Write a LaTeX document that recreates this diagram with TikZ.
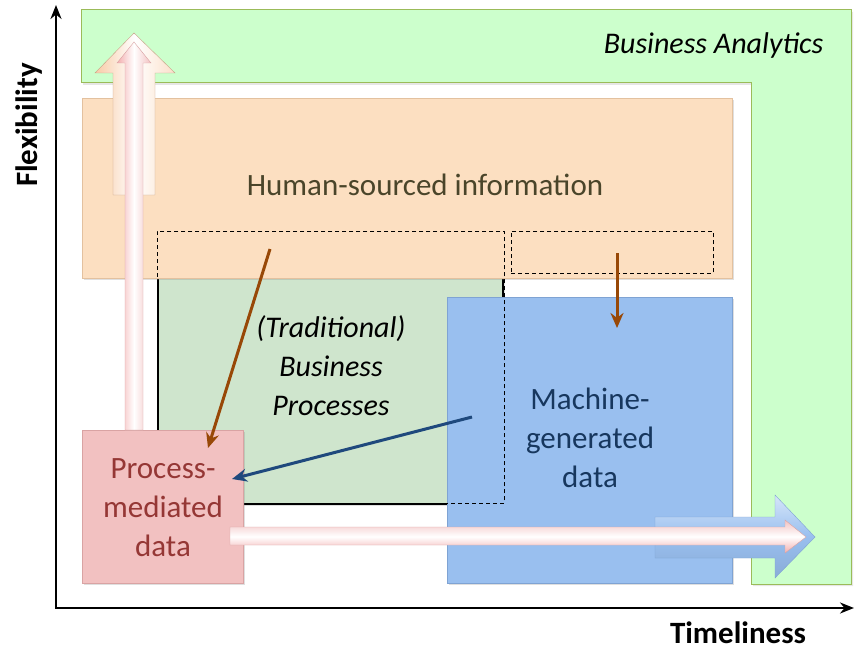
\documentclass[tikz,border=0pt]{standalone}
\usepackage{xcolor}
\usepackage{fontspec}
\setmainfont{Carlito}
\usepackage{tikz}
\usetikzlibrary{arrows.meta, positioning, calc, shadows}
\definecolor{bafill}{HTML}{CCFFCC}
\definecolor{baedge}{HTML}{9BBB59}
\definecolor{hsfill}{HTML}{FCDFC1}
\definecolor{hsedge}{HTML}{E3C19F}
\definecolor{hstext}{HTML}{4A452A}
\definecolor{tbfill}{HTML}{CFE5CD}
\definecolor{mgfill}{HTML}{99BFEF}
\definecolor{mgedge}{HTML}{7FA3D3}
\definecolor{mgtext}{HTML}{17375E}
\definecolor{pmfill}{HTML}{F2C1C1}
\definecolor{pmedge}{HTML}{D9A3A3}
\definecolor{pmtext}{HTML}{953735}
\definecolor{peach}{HTML}{F8CBA6}
\definecolor{mybrown}{HTML}{984807}
\definecolor{mynavy}{HTML}{1F497D}
\tikzset{
  box/.style={rectangle, anchor=north west, inner sep=0pt,
    drop shadow={opacity=0.25, shadow xshift=2pt, shadow yshift=-2pt}},
  boxtext/.style={align=center, font=\fontsize{31}{39}\selectfont},
  axislabel/.style={font=\fontsize{31}{36}\selectfont\bfseries},
  flow/.style={-{Stealth[length=15pt, width=13pt]}, line width=3pt},
  scopebox/.style={rectangle, anchor=north west, inner sep=0pt,
    draw=black, line width=0.9pt, dash pattern=on 4pt off 3pt}
}

\begin{document}
\begin{tikzpicture}[x=1pt, y=-1pt]
  \useasboundingbox (0,0) rectangle (858,650);

  % Business Analytics band
  \draw[fill=bafill, draw=baedge, line width=1pt,
    drop shadow={opacity=0.2, shadow xshift=2pt, shadow yshift=-2pt}]
    (81,10) -- (851,10) -- (851,584) -- (751,584) -- (751,83) -- (81,83) -- cycle;
  \node[font=\fontsize{30}{34}\selectfont\itshape, anchor=east] (ba) at (827,46) {Business Analytics};

  % Boxes
  \node[box, fill=tbfill, draw=black, line width=1.8pt,
    minimum width=345pt, minimum height=229pt] (tbbox) at (157,274) {};
  \node[box, fill=hsfill, draw=hsedge, line width=0.6pt,
    minimum width=650pt, minimum height=180pt] (hsbox) at (82,98) {};
  \node[box, fill=mgfill, draw=mgedge, line width=0.6pt,
    minimum width=285pt, minimum height=286pt] (mgbox) at (447,297) {};

  % Dashed scopes
  \node[scopebox, minimum width=347pt, minimum height=272pt] (tbscope) at (157,231) {};
  \node[scopebox, minimum width=202pt, minimum height=42pt] (mgscope) at (511,231) {};

  \node[box, fill=pmfill, draw=pmedge, line width=0.6pt,
    minimum width=161pt, minimum height=153pt] (pmbox) at (82,430) {};

  % Block arrows
  \path[left color=peach, right color=peach!60, middle color=white, draw=peach!80!black, line width=0.4pt]
    (113,195) -- (113,73) -- (95,73) -- (134,33) -- (175,73) -- (155,73) -- (155,195) -- cycle;
  \path[left color=pmfill!90!red, right color=pmfill, middle color=white, draw=pmedge, line width=0.4pt]
    (125,430) -- (125,63) -- (117,63) -- (134,42) -- (151,63) -- (143,63) -- (143,430) -- cycle;
  \path[top color=mgfill!40!white, bottom color=mgfill!90!black, middle color=mgfill, draw=mgedge, line width=0.4pt]
    (655,517) -- (775,517) -- (775,495) -- (815,537) -- (775,578) -- (775,558) -- (655,558) -- cycle;
  \path[top color=pmfill, bottom color=pmfill!90!red, middle color=white, draw=pmedge, line width=0.4pt]
    (230,527) -- (785,527) -- (785,520) -- (806,537) -- (785,553) -- (785,545) -- (230,545) -- cycle;

  % Texts
  \node[boxtext, text=hstext] (hstext) at (425,185) {Human-sourced information};
  \node[boxtext, font=\fontsize{30}{39}\selectfont\itshape] (tbtext) at (331,366) {(Traditional)\\Business\\Processes};
  \node[boxtext, text=mgtext] (mgtext) at (590,438) {Machine-\\generated\\data};
  \node[boxtext, text=pmtext] (pmtext) at (163,508) {Process-\\mediated\\data};

  % Flows
  \coordinate (hsleft) at (270,249);
  \coordinate (pmtop) at (208,448);
  \coordinate (hsright) at (617,253);
  \coordinate (mgtop) at (617,328);
  \coordinate (mgleft) at (472,417);
  \coordinate (pmright) at (232,479);
  \draw[flow, mybrown] (hsleft) -- (pmtop);
  \draw[flow, mybrown] (hsright) -- (mgtop);
  \draw[flow, mynavy] (mgleft) -- (pmright);

  % Axes
  \coordinate (origin) at (56,608);
  \coordinate (ytip) at (56,5);
  \coordinate (xtip) at (854,608);
  \draw[line width=2.2pt, {Stealth[length=14pt, width=11pt]}-{Stealth[length=14pt, width=11pt]}]
    (ytip) -- (origin) -- (xtip);
  \node[axislabel] (ylabel) [rotate=90] at (29,125) {Flexibility};
  \node[axislabel] (xlabel) at (738,633) {Timeliness};
\end{tikzpicture}
\end{document}
